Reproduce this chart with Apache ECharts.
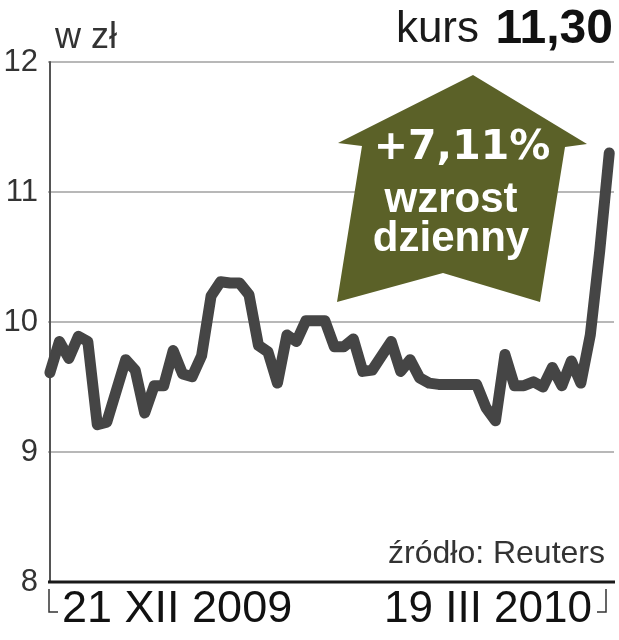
<!DOCTYPE html>
<html>
<head>
<meta charset="utf-8">
<script src="https://cdn.jsdelivr.net/npm/echarts@6/dist/echarts.min.js"></script>
<style>
html,body{margin:0;padding:0;background:#fff;}
#chart{width:619px;height:640px;}
</style>
</head>
<body>
<div id="chart"></div>
<script>
// Daily closing price (zł), 21 XII 2009 – 19 III 2010
const prices = [
  9.61, 9.85, 9.72, 9.89, 9.85, 9.21, 9.23, 9.47, 9.71, 9.63,
  9.30, 9.51, 9.51, 9.78, 9.60, 9.58, 9.74, 10.20, 10.31, 10.30,
  10.30, 10.21, 9.82, 9.77, 9.53, 9.90, 9.85, 10.01, 10.01, 10.01,
  9.81, 9.81, 9.87, 9.62, 9.63, 9.74, 9.85, 9.62, 9.71, 9.57,
  9.53, 9.52, 9.52, 9.52, 9.52, 9.52, 9.34, 9.24, 9.75, 9.51,
  9.51, 9.54, 9.50, 9.65, 9.51, 9.70, 9.53, 9.90, 10.55, 11.30
];
const dateLabels = ['21 XII 2009', '19 III 2010'];
const yTicks = [8, 9, 10, 11, 12];
const unitLabel = 'w zł';
const priceLabel = 'kurs';
const lastPrice = '11,30';
const changeLines = ['+7,11%', 'wzrost', 'dzienny'];
const sourceLabel = 'źródło: Reuters';

const SANS = '"Liberation Sans", Arial, sans-serif';
const WIDE = '"DejaVu Sans", sans-serif';

const chart = echarts.init(document.getElementById('chart'), null, {renderer: 'canvas'});
const seriesData = prices.map((v, i) => [i, v]);

const option = {
  animation: false,
  backgroundColor: '#ffffff',
  grid: {left: 48, right: 5, top: 62, bottom: 58, containLabel: false},
  xAxis: {
    type: 'value', min: -0.2, max: 59.5,
    show: false, splitLine: {show: false}
  },
  yAxis: {
    type: 'value', min: yTicks[0], max: yTicks[yTicks.length - 1], interval: 1,
    axisLine: {show: true, lineStyle: {color: '#555', width: 2}},
    axisTick: {show: false},
    axisLabel: {
      margin: 10, color: '#333', fontFamily: SANS, fontSize: 31,
      formatter: v => yTicks.includes(v) ? String(v) : ''
    },
    splitLine: {show: true, lineStyle: {color: '#a0a0a0', width: 1.5}}
  },
  series: [{
    type: 'line', data: seriesData, showSymbol: false, z: 5,
    lineStyle: {color: '#454545', width: 11, cap: 'round', join: 'round'}
  }],
  graphic: [
    // bottom axis line
    {type: 'line', z: 50, shape: {x1: 48, y1: 582, x2: 615, y2: 582}, style: {stroke: '#1a1a1a', lineWidth: 3}},
    // brackets
    {type: 'polyline', z: 50, shape: {points: [[49, 589], [49, 612], [58, 612]]}, style: {stroke: '#333', lineWidth: 1.5, fill: null}},
    {type: 'polyline', z: 50, shape: {points: [[597, 612], [606, 612], [606, 589]]}, style: {stroke: '#333', lineWidth: 1.5, fill: null}},
    // arrow
    {type: 'polygon', z: 60, shape: {points: [[473, 75], [587, 144], [565, 147], [540, 302], [443, 273], [337, 302], [362, 146], [338, 143]]},
      style: {fill: '#5b6128'}},
    {type: 'text', z: 61, x: 462, y: 148, style: {text: changeLines[0], fill: '#fff', font: 'bold 41px ' + WIDE, textAlign: 'center', textVerticalAlign: 'middle'}},
    {type: 'text', z: 61, x: 451, y: 200, style: {text: changeLines[1], fill: '#fff', font: 'bold 42px ' + SANS, textAlign: 'center', textVerticalAlign: 'middle'}},
    {type: 'text', z: 61, x: 451, y: 239, style: {text: changeLines[2], fill: '#fff', font: 'bold 42px ' + SANS, textAlign: 'center', textVerticalAlign: 'middle'}},
    // header
    {type: 'text', z: 61, x: 55, y: 38, style: {text: unitLabel, fill: '#333', font: '36px ' + SANS, textAlign: 'left', textVerticalAlign: 'middle'}},
    {type: 'text', z: 61, x: 479, y: 30, style: {text: priceLabel, fill: '#1a1a1a', font: '44px ' + SANS, textAlign: 'right', textVerticalAlign: 'middle'}},
    {type: 'text', z: 61, x: 613, y: 30, style: {text: lastPrice, fill: '#111', font: 'bold 48px ' + SANS, textAlign: 'right', textVerticalAlign: 'middle'}},
    // source
    {type: 'text', z: 61, x: 605, y: 554, style: {text: sourceLabel, fill: '#333', font: '32px ' + SANS, textAlign: 'right', textVerticalAlign: 'middle'}},
    // date labels
    {type: 'text', z: 61, x: 62, y: 610, style: {text: dateLabels[0], fill: '#111', font: '45px ' + SANS, textAlign: 'left', textVerticalAlign: 'middle'}},
    {type: 'text', z: 61, x: 592, y: 610, style: {text: dateLabels[1], fill: '#111', font: '44px ' + SANS, textAlign: 'right', textVerticalAlign: 'middle'}}
  ]
};
chart.setOption(option);
</script>
</body>
</html>
